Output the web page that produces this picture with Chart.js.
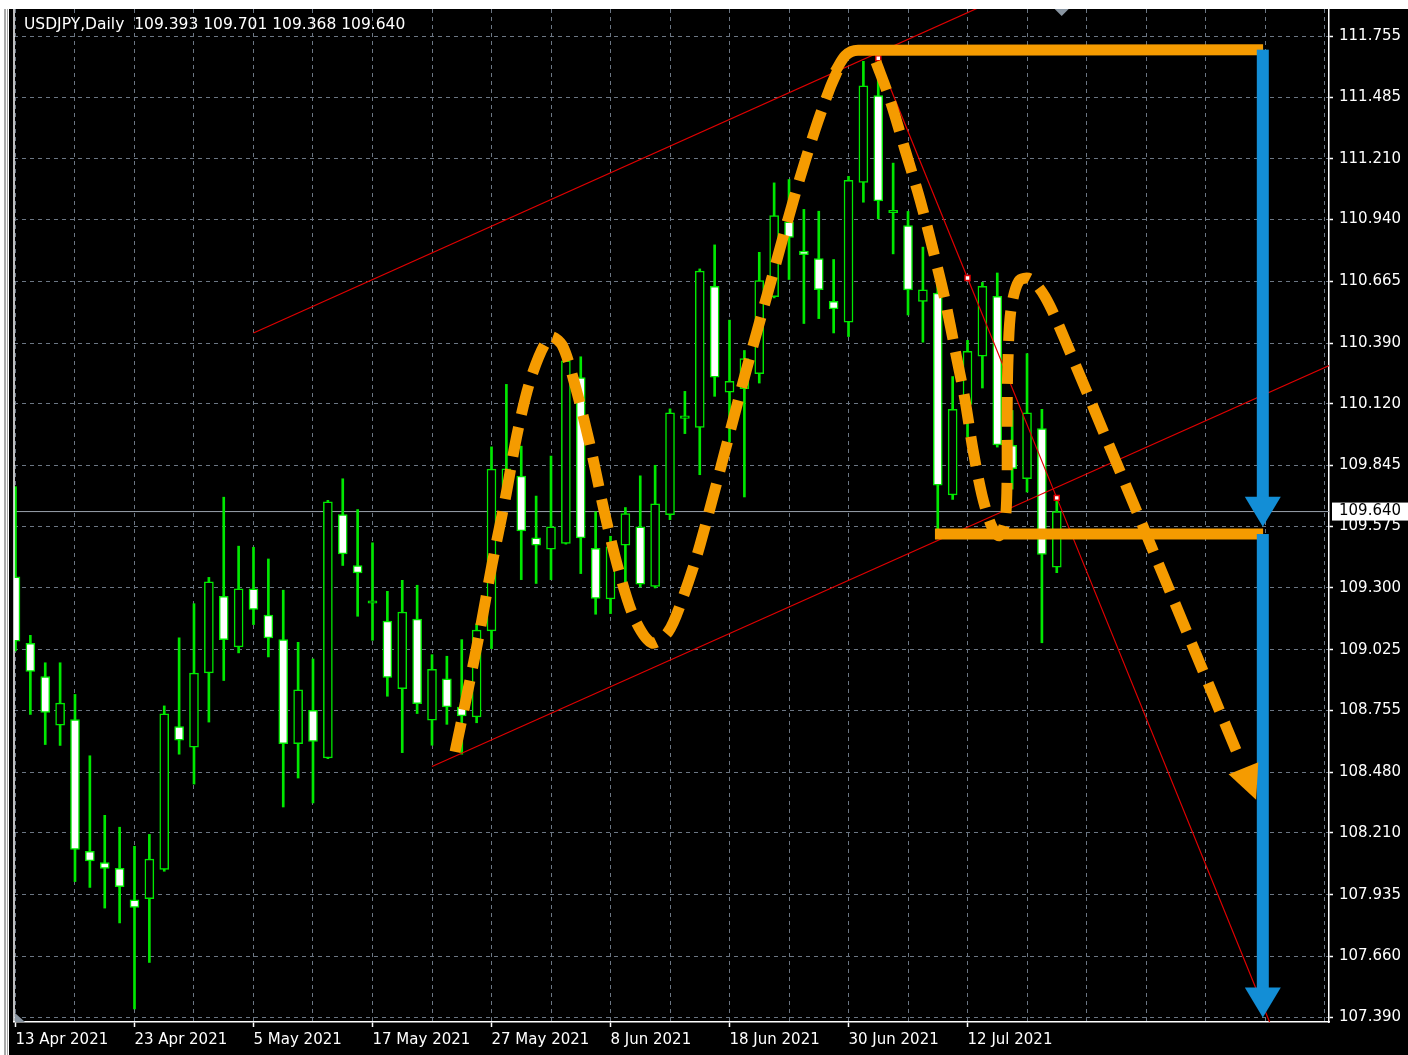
<!DOCTYPE html>
<html lang="en">
<head>
<meta charset="UTF-8">
<title>USDJPY Daily</title>
<style>
  html, body { margin: 0; padding: 0; background: #fff; }
  #wrap { width: 1408px; height: 1055px; }
</style>
</head>
<body>
<div id="wrap"><canvas id="myChart"></canvas></div>

<script src="https://cdn.jsdelivr.net/npm/chart.js"></script>
<script>
// daily candles, bar 0 = 13 Apr 2021, bar 70 = 20 Jul 2021
var opens = [109.350, 109.054, 108.905, 108.689, 108.714, 108.128, 108.078, 108.052, 107.912, 107.917,
  108.047, 108.683, 108.591, 108.922, 109.263, 109.038, 109.296, 109.179, 109.070, 108.607,
  108.755, 108.543, 109.627, 109.400, 109.232, 109.152, 108.852, 109.161, 108.711, 108.896,
  108.770, 108.726, 109.109, 109.747, 109.798, 109.523, 109.473, 109.498, 110.236, 109.476,
  109.251, 109.490, 109.572, 109.307, 109.626, 110.055, 110.015, 110.643, 110.171, 110.187,
  110.254, 110.596, 110.930, 110.800, 110.766, 110.576, 110.483, 111.105, 111.492, 110.970,
  110.913, 110.575, 110.612, 109.714, 110.117, 110.332, 110.598, 109.935, 109.786, 110.009,
  109.393];
var highs = [109.751, 109.089, 108.967, 108.967, 108.826, 108.553, 108.288, 108.235, 108.150, 108.203,
  108.775, 109.078, 109.230, 109.347, 109.704, 109.486, 109.481, 109.429, 109.290, 109.058,
  108.984, 109.690, 109.786, 109.649, 109.501, 109.285, 109.334, 109.312, 109.003, 108.996,
  109.070, 109.140, 109.928, 110.206, 109.931, 109.709, 109.887, 110.322, 110.329, 109.639,
  109.530, 109.658, 109.799, 109.846, 110.097, 110.175, 110.720, 110.827, 110.492, 110.357,
  110.794, 111.103, 111.118, 110.985, 110.977, 110.762, 111.132, 111.644, 111.659, 111.191,
  110.976, 110.817, 110.657, 110.241, 110.402, 110.660, 110.702, 110.090, 110.343, 110.095,
  109.701];
var lows = [109.020, 108.737, 108.603, 108.599, 107.993, 107.967, 107.875, 107.809, 107.426, 107.633,
  108.039, 108.560, 108.427, 108.703, 108.888, 109.011, 109.137, 108.993, 108.325, 108.454,
  108.343, 108.540, 109.400, 109.174, 109.067, 108.818, 108.567, 108.741, 108.600, 108.693,
  108.560, 108.700, 109.030, 109.735, 109.337, 109.320, 109.337, 109.495, 109.364, 109.183,
  109.186, 109.305, 109.305, 109.300, 109.604, 109.987, 109.804, 110.153, 109.950, 109.705,
  110.212, 110.591, 110.673, 110.477, 110.499, 110.435, 110.419, 111.017, 110.943, 110.787,
  110.515, 110.394, 109.545, 109.694, 109.972, 110.190, 109.927, 109.740, 109.727, 109.056,
  109.368];
var closes = [109.063, 108.928, 108.746, 108.787, 108.136, 108.085, 108.052, 107.970, 107.878, 108.093,
  108.740, 108.622, 108.921, 109.327, 109.070, 109.296, 109.204, 109.078, 108.607, 108.847,
  108.617, 109.683, 109.452, 109.367, 109.238, 108.902, 109.193, 108.785, 108.938, 108.770,
  108.730, 109.112, 109.829, 109.830, 109.554, 109.490, 109.572, 110.311, 109.523, 109.253,
  109.483, 109.631, 109.317, 109.675, 110.079, 110.060, 110.710, 110.238, 110.220, 110.321,
  110.668, 110.958, 110.860, 110.784, 110.628, 110.542, 111.114, 111.535, 111.023, 110.976,
  110.627, 110.627, 109.758, 110.095, 110.353, 110.643, 109.937, 109.831, 110.079, 109.449,
  109.640];

var symbol = 'USDJPY';
var period = 'Daily';
var dateLabels = ['13 Apr 2021', '23 Apr 2021', '5 May 2021', '17 May 2021', '27 May 2021',
  '8 Jun 2021', '18 Jun 2021', '30 Jun 2021', '12 Jul 2021'];
var priceTicks = [107.390, 107.660, 107.935, 108.210, 108.480, 108.755, 109.025, 109.300, 109.575,
  109.845, 110.120, 110.390, 110.665, 110.940, 111.210, 111.485, 111.755];
var bidPrice = 109.640;

// objects drawn on the chart, as [bar index, price]
var channelUpper = [[16, 110.435], [80, 112.336]];
var channelLower = [[28, 108.505], [90, 110.340]];
var trendDown = [[58, 111.658], [64, 110.680], [70, 109.701], [90, 106.439]];
var leftWave = [[29.55, 108.570], [30.42, 108.846], [31.23, 109.113], [32.03, 109.403], [32.91, 109.692],
  [33.78, 110.003], [34.72, 110.248], [35.93, 110.417], [36.74, 110.382], [37.61, 110.204],
  [38.62, 109.937], [39.63, 109.625], [40.64, 109.358], [41.65, 109.158], [42.79, 109.055],
  [43.87, 109.104], [44.81, 109.247], [46.02, 109.492], [49.04, 110.248], [50.72, 110.649],
  [52.40, 111.050], [53.75, 111.339], [54.76, 111.526], [55.29, 111.606]];
var rightWave = [[57.85, 111.641], [58.79, 111.472], [59.80, 111.250], [60.81, 111.027], [61.68, 110.805],
  [62.49, 110.582], [63.16, 110.360], [63.83, 110.137], [64.37, 109.914], [64.97, 109.714],
  [65.58, 109.581], [66.12, 109.532], [66.52, 109.594], [66.66, 109.781], [66.66, 110.048],
  [66.72, 110.315], [66.92, 110.538], [67.46, 110.667], [68.20, 110.676], [69.21, 110.596],
  [70.55, 110.404], [82.32, 108.535]];
var waveTip = [83.40, 108.357];
var topLine = [[55.09, 111.597], [55.77, 111.668], [56.64, 111.693], [83.87, 111.696]];
var neckLine = [[61.81, 109.540], [83.87, 109.540]];
var targetX = 83.85;
var targetFrom = [111.696, 109.540];
var targetTo = [109.572, 107.388];

var GREEN = '#00e800';
var ORANGE = '#f59b00';
var BLUE = '#138ed6';
var RED = '#e00000';
var GRID = '#6b7683';

function pts(list) {
  return list.map(function (p) { return { x: p[0], y: p[1] }; });
}

var wicks = [], bodies = [], bodyColors = [];
for (var i = 0; i < opens.length; i++) {
  wicks.push({ x: i, y: [lows[i], highs[i]] });
  bodies.push({ x: i, y: [Math.min(opens[i], closes[i]), Math.max(opens[i], closes[i])] });
  bodyColors.push(closes[i] >= opens[i] ? '#000000' : '#ffffff');
}

function lineSet(list, color, width, order, extra) {
  var ds = {
    type: 'line', data: pts(list), borderColor: color, borderWidth: width,
    pointRadius: 0, fill: false, tension: 0, order: order, borderCapStyle: 'butt'
  };
  for (var k in extra) ds[k] = extra[k];
  return ds;
}

function arrowHead(ctx, tx, ty, fx, fy, len, half, color) {
  var a = Math.atan2(ty - fy, tx - fx);
  var bx = tx - len * Math.cos(a), by = ty - len * Math.sin(a);
  ctx.fillStyle = color;
  ctx.beginPath();
  ctx.moveTo(tx, ty);
  ctx.lineTo(bx + half * Math.sin(a), by - half * Math.cos(a));
  ctx.lineTo(bx - half * Math.sin(a), by + half * Math.cos(a));
  ctx.closePath();
  ctx.fill();
}

var mt4Frame = {
  id: 'mt4Frame',
  beforeDraw: function (chart) {
    var c = chart.ctx;
    c.save();
    c.fillStyle = '#ffffff';
    c.fillRect(0, 0, chart.width, chart.height);
    c.fillStyle = '#000000';
    c.fillRect(9, 9, chart.width - 9, chart.height - 9);
    c.fillStyle = '#a8a8a8';
    c.fillRect(4, 9, 2, chart.height - 9);
    c.fillRect(7, 9, 1, chart.height - 9);
    c.restore();
  },
  beforeDatasetsDraw: function (chart) {
    var c = chart.ctx, a = chart.chartArea;
    var y = chart.scales.y.getPixelForValue(bidPrice);
    c.save();
    c.strokeStyle = '#9aa3ad';
    c.lineWidth = 1;
    c.beginPath();
    c.moveTo(a.left, y);
    c.lineTo(a.right, y);
    c.stroke();
    c.restore();
  },
  afterDatasetsDraw: function (chart) {
    var c = chart.ctx, xs = chart.scales.x, ys = chart.scales.y;
    c.save();
    // blue target arrows
    var bx = xs.getPixelForValue(targetX);
    for (var j = 0; j < targetFrom.length; j++) {
      var y0 = ys.getPixelForValue(targetFrom[j]);
      var y1 = ys.getPixelForValue(targetTo[j]);
      c.fillStyle = BLUE;
      c.fillRect(bx - 6, y0, 12, y1 - y0 - 28);
      arrowHead(c, bx, y1, bx, y0, 30, 18, BLUE);
    }
    // head of the dashed projection
    var last = rightWave[rightWave.length - 1];
    arrowHead(c, xs.getPixelForValue(waveTip[0]), ys.getPixelForValue(waveTip[1]),
      xs.getPixelForValue(last[0]), ys.getPixelForValue(last[1]), 34, 16, ORANGE);
    c.restore();
  },
  afterDraw: function (chart) {
    var c = chart.ctx, a = chart.chartArea, xs = chart.scales.x, ys = chart.scales.y;
    var n = opens.length - 1;
    c.save();
    // left frame line
    c.strokeStyle = '#ffffff';
    c.lineWidth = 1.5;
    c.beginPath();
    c.moveTo(a.left, a.top);
    c.lineTo(a.left, a.bottom);
    c.stroke();
    // symbol line
    c.font = '15.5px "DejaVu Sans"';
    c.fillStyle = '#ffffff';
    c.textBaseline = 'alphabetic';
    c.textAlign = 'left';
    c.fillText(symbol + ',' + period + '  ' + opens[n].toFixed(3) + ' ' + highs[n].toFixed(3) + ' ' +
      lows[n].toFixed(3) + ' ' + closes[n].toFixed(3), a.left + 10, 29);
    // bid label
    var by = ys.getPixelForValue(bidPrice);
    c.font = '15px "DejaVu Sans"';
    c.fillStyle = '#ffffff';
    c.fillRect(a.right + 3, by - 9, chart.width - a.right - 3, 18);
    c.fillStyle = '#000000';
    c.textBaseline = 'middle';
    c.fillText(bidPrice.toFixed(3), a.right + 10, by);
    // shift marker and scale marker
    c.fillStyle = '#8a96a2';
    var sx = xs.getPixelForValue(n + 0.33);
    c.beginPath();
    c.moveTo(sx - 7, a.top);
    c.lineTo(sx + 7, a.top);
    c.lineTo(sx, a.top + 7);
    c.closePath();
    c.fill();
    c.beginPath();
    c.moveTo(a.left + 1, a.bottom);
    c.lineTo(a.left + 1, a.bottom - 9);
    c.lineTo(a.left + 11, a.bottom);
    c.closePath();
    c.fill();
    c.restore();
  }
};

Chart.defaults.font.family = '"DejaVu Sans"';

var chrt = document.getElementById('myChart').getContext('2d');
var chartId = new Chart(chrt, {
  type: 'bar',
  data: {
    datasets: [
      lineSet(leftWave, ORANGE, 11, 0, { borderDash: [30, 13], tension: 0.3 }),
      lineSet(rightWave, ORANGE, 11, 0, { borderDash: [30, 13], tension: 0.3 }),
      lineSet(topLine, ORANGE, 11, 0, { cubicInterpolationMode: 'monotone' }),
      lineSet(neckLine, ORANGE, 11, 0, {}),
      lineSet(channelUpper, RED, 1.2, 2, {}),
      lineSet(channelLower, RED, 1.2, 2, {}),
      lineSet(trendDown, RED, 1.2, 2, {
        pointRadius: [3.5, 3.5, 3.5, 0], pointStyle: 'rect',
        pointBackgroundColor: '#ffffff', pointBorderColor: RED, pointBorderWidth: 1.5
      }),
      {
        label: 'body', data: bodies, backgroundColor: bodyColors, borderColor: GREEN,
        borderWidth: 1.5, borderSkipped: false, barThickness: 9, minBarLength: 2.5,
        grouped: false, order: 3
      },
      {
        label: 'wick', data: wicks, backgroundColor: GREEN, borderWidth: 0,
        barThickness: 2, grouped: false, order: 4
      }
    ]
  },
  options: {
    responsive: true,
    maintainAspectRatio: false,
    devicePixelRatio: 1,
    animation: false,
    events: [],
    layout: { padding: { left: 14, top: 9, right: 0, bottom: 0 } },
    plugins: { legend: { display: false }, tooltip: { enabled: false } },
    scales: {
      x: {
        type: 'linear', min: -0.1, max: 88.3, offset: false,
        afterBuildTicks: function (s) {
          var t = [];
          for (var v = 0; v <= 88; v += 4) t.push({ value: v });
          s.ticks = t;
        },
        afterFit: function (s) { s.height = 33; },
        ticks: {
          autoSkip: false, maxRotation: 0, align: 'start', padding: 4,
          color: '#ffffff', font: { size: 15 },
          callback: function (v) { return v % 8 === 0 && dateLabels[v / 8] ? dateLabels[v / 8] : ''; }
        },
        grid: {
          offset: false, color: GRID, lineWidth: 1, tickLength: 5, tickWidth: 1.5,
          tickColor: function (ctx) { return ctx.tick && ctx.tick.value % 8 === 0 && ctx.tick.value <= 64 ? '#ffffff' : 'rgba(0,0,0,0)'; }
        },
        border: { display: true, color: '#ffffff', width: 1.5, dash: [4, 4] }
      },
      y: {
        type: 'linear', position: 'right', min: 107.368, max: 111.877,
        afterBuildTicks: function (s) {
          s.ticks = priceTicks.map(function (v) { return { value: v }; });
        },
        afterFit: function (s) { s.width = 79; },
        ticks: {
          autoSkip: false, padding: 6, color: '#ffffff', font: { size: 15, lineHeight: 0.2 },
          callback: function (v) { return Number(v).toFixed(3); }
        },
        grid: { offset: false, color: GRID, lineWidth: 1, tickLength: 4, tickColor: '#ffffff', tickWidth: 1.5 },
        border: { display: true, color: '#ffffff', width: 1.5, dash: [4, 4] }
      }
    }
  },
  plugins: [mt4Frame]
});
</script>
</body>
</html>
